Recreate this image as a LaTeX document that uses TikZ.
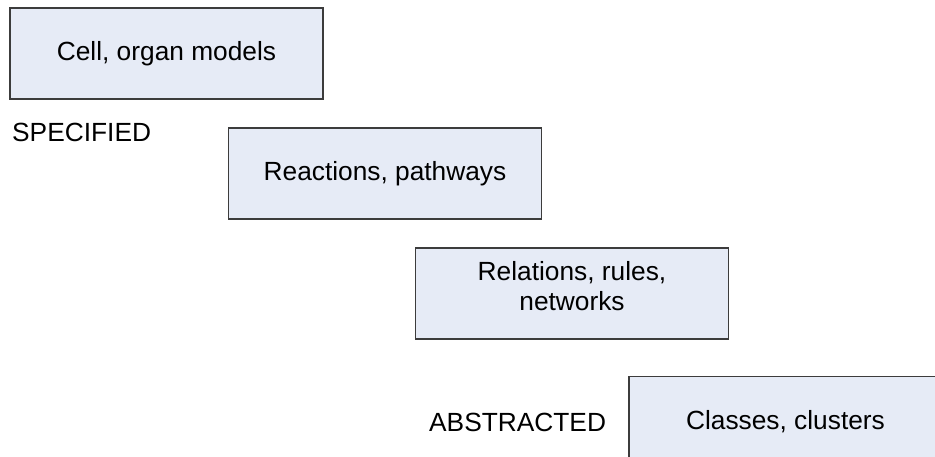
\documentclass[tikz,border=0pt]{standalone}
\usepackage{fontspec}
\setmainfont{Liberation Sans}
\definecolor{boxfill}{RGB}{230,235,246}
\definecolor{boxline}{RGB}{60,60,60}
\begin{document}
\begin{tikzpicture}[x=1pt,y=-1pt,
  level/.style={draw=boxline, fill=boxfill, line width=1.4pt,
    minimum width=313pt, minimum height=91pt, inner sep=0pt,
    align=center, font=\fontsize{26.3}{30}\selectfont},
  tag/.style={inner sep=0pt, font=\fontsize{26.3}{30}\selectfont}]
  \useasboundingbox (0,0) rectangle (935,457);
  \clip (0,0) rectangle (935,457);
  \fill[white] (0,0) rectangle (935,457);
  % four levels, stepping down from specified to abstracted
  \node[level] (cell) at (166.5,53.5) {Cell, organ models};
  \node[level] (react) at (385,173.5) {Reactions, pathways};
  \node[level] (rel) at (572,293.5) {};
  \node[inner sep=0pt, align=center, font=\fontsize{26.3}{30}\selectfont] (reltext) at (572,286) {Relations, rules,\\networks};
  \node[level] (class) at (785.5,422) {Classes, clusters};
  % end labels
  \node[tag, anchor=west] (spec) at (12,132) {SPECIFIED};
  \node[tag, anchor=west] (abs) at (429,422) {ABSTRACTED};
\end{tikzpicture}
\end{document}
